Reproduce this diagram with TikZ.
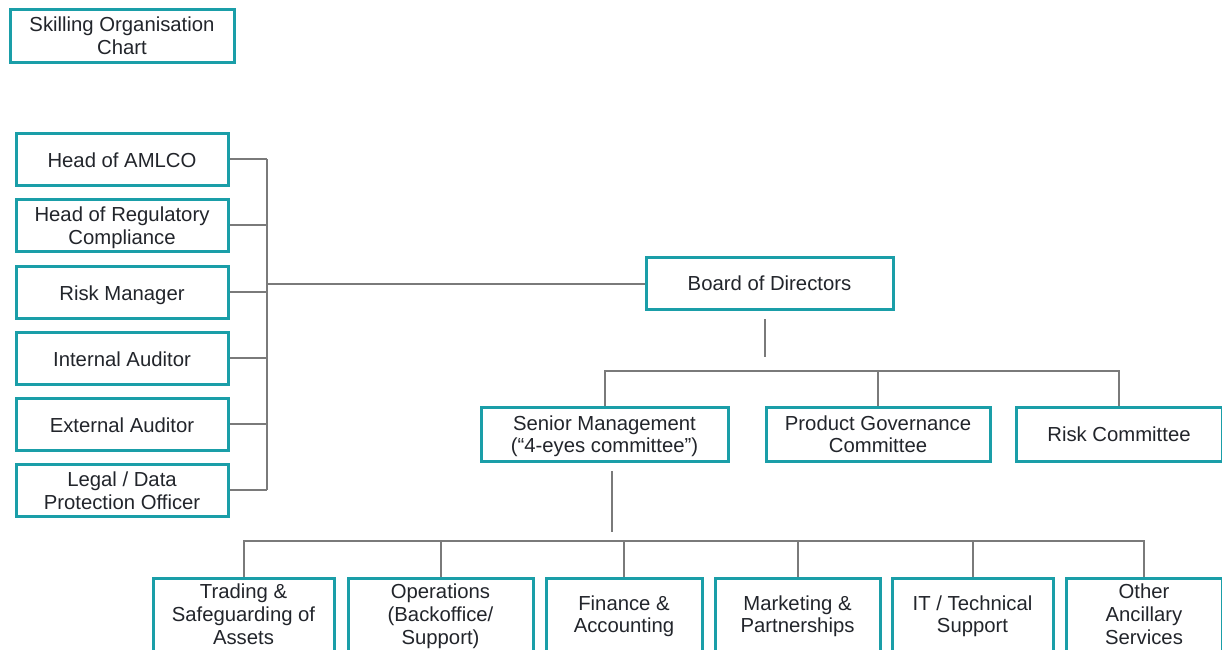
\documentclass[tikz,border=0pt]{standalone}
\usepackage{fontspec}
\setmainfont{Liberation Sans}
\definecolor{boxteal}{HTML}{1A9EA8}
\definecolor{linegray}{HTML}{7A7A7A}
\definecolor{txt}{HTML}{22252B}
\newcommand\bt[2][-3.5pt]{\raisebox{#1}[\height][\depth]{\begin{tabular}{@{}c@{}}#2\end{tabular}}}
\begin{document}
\begin{tikzpicture}[x=1pt,y=-1pt,
  box/.style={draw=boxteal, line width=3pt, fill=white, text=txt,
    font=\fontsize{20.3}{22.8}\selectfont, inner sep=0pt},
  conn/.style={draw=linegray, line width=2pt}]
\useasboundingbox (0,0) rectangle (1222,649);
\clip (0,0) rectangle (1222,649);
% title
\node[box, minimum width=224pt, minimum height=53pt] (title) at (122,35.5) {\bt[-3pt]{Skilling Organisation\\Chart}};
% left column
\tikzset{lbox/.style={box, minimum width=212pt, minimum height=52pt}}
\node[lbox] (amlco) at (122,159) {\bt{Head of AMLCO}};
\node[lbox] (reg) at (122,225) {\bt{Head of Regulatory\\Compliance}};
\node[lbox] (riskm) at (122,292) {\bt{Risk Manager}};
\node[lbox] (intaud) at (122,358) {\bt{Internal Auditor}};
\node[lbox] (extaud) at (122,424) {\bt{External Auditor}};
\node[lbox] (legal) at (122,490) {\bt{Legal / Data\\Protection Officer}};
% board
\node[box, minimum width=247pt, minimum height=52pt] (board) at (769.5,283.5) {\bt[-2pt]{Board of Directors}};
% middle row
\node[box, minimum width=247pt, minimum height=54pt] (senior) at (604.5,434) {\bt[-3pt]{Senior Management\\(\char"201C 4-eyes committee\char"201D)}};
\node[box, minimum width=224pt, minimum height=54pt] (product) at (878,434) {\bt[-3pt]{Product Governance\\Committee}};
\node[box, minimum width=206pt, minimum height=54pt] (riskc) at (1119,434) {\bt[-3pt]{Risk Committee}};
% bottom row
\tikzset{bbox/.style={box, minimum height=75pt}}
\node[bbox, minimum width=181pt] (trading) at (243.5,615.5) {\bt[-1.5pt]{Trading \&\\Safeguarding of\\Assets}};
\node[bbox, minimum width=185pt] (ops) at (440.5,615.5) {\bt[-1.5pt]{Operations\\(Backoffice/\\Support)}};
\node[bbox, minimum width=156pt] (fin) at (624,615.5) {\bt[-1.5pt]{Finance \&\\Accounting}};
\node[bbox, minimum width=165pt] (mkt) at (797.5,615.5) {\bt[-1.5pt]{Marketing \&\\Partnerships}};
\node[bbox, minimum width=161pt] (it) at (972.5,615.5) {\bt[-1.5pt]{IT / Technical\\Support}};
\node[bbox, minimum width=156pt] (other) at (1144,615.5) {\bt[-1.5pt]{Other\\Ancillary\\Services}};
% connector coordinates
\coordinate (lb) at (267,0);
\coordinate (bstubT) at (765,319);
\coordinate (bstubB) at (765,357);
\coordinate (bus1) at (0,371);
\coordinate (sstubT) at (612,471);
\coordinate (sstubB) at (612,532);
\coordinate (bus2) at (0,541);
% left connectors
\foreach \n in {amlco,reg,riskm,intaud,extaud,legal}
  \draw[conn] (\n.east) -- (\n.east -| lb);
\draw[conn] (amlco.east -| lb) -- (legal.east -| lb);
\draw[conn] (board.west) -- (board.west -| lb);
% board to committees
\draw[conn] (bstubT) -- (bstubB);
\draw[conn] (senior.north) -- (senior.north |- bus1) -| (riskc.north);
\draw[conn] (product.north |- bus1) -- (product.north);
% senior to departments
\draw[conn] (sstubT) -- (sstubB);
\draw[conn] (trading.north) -- (trading.north |- bus2) -| (other.north);
\foreach \n in {ops,fin,mkt,it}
  \draw[conn] (\n.north |- bus2) -- (\n.north);
\end{tikzpicture}
\end{document}
